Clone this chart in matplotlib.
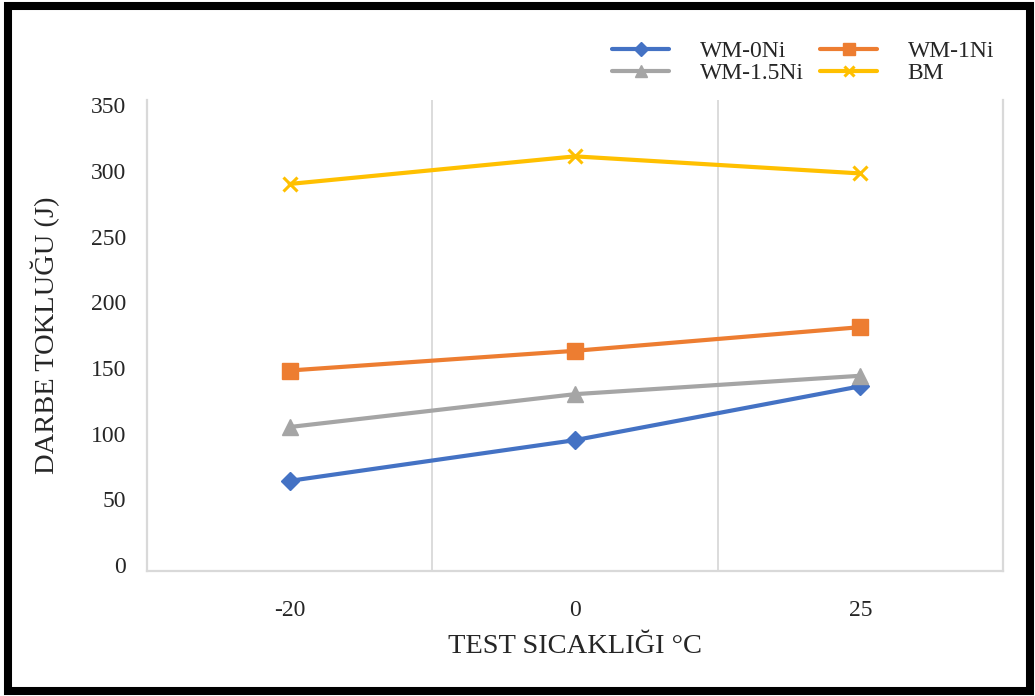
import matplotlib
matplotlib.use("Agg")
import matplotlib.pyplot as plt
from matplotlib.patches import Rectangle

plt.rcParams["font.family"] = ["Liberation Serif", "DejaVu Serif"]

# Data
temperatures = ["-20", "0", "25"]
wm_0ni = [64, 95, 136]
wm_1ni = [148, 163, 181]
wm_15ni = [105, 130, 144]
bm = [290, 311, 298]

series = [
    ("WM-0Ni", wm_0ni, "#4472C4", "D", 9),
    ("WM-1.5Ni", wm_15ni, "#A5A5A5", "^", 11),
    ("WM-1Ni", wm_1ni, "#ED7D31", "s", 11),
    ("BM", bm, "#FFC000", "x", 10),
]

W, H = 1035, 696
fig = plt.figure(figsize=(W / 100, H / 100), dpi=100)
fig.patch.set_facecolor("white")

ax = fig.add_axes([147 / W, 1 - 571 / H, (1003 - 147) / W, (571 - 100) / H])
x = list(range(len(temperatures)))

handles = {}
for name, vals, color, marker, ms in series:
    kw = dict(color=color, lw=3.0, marker=marker, markersize=ms,
              solid_capstyle="round", zorder=3)
    if marker == "x":
        kw.update(markeredgewidth=2.2)
    else:
        kw.update(markeredgecolor=color)
    (ln,) = ax.plot(x, vals, label=name, **kw)
    handles[name] = ln

ax.set_xlim(-0.5, len(temperatures) - 0.5)
ax.set_ylim(-4.6, 353.9)
ax.set_yticks(range(0, 351, 50))
ax.set_xticks(x)
ax.set_xticklabels(temperatures)

grid_c = "#D9D9D9"
for b in (0.5, 1.5):
    ax.axvline(b, color=grid_c, lw=1.3, zorder=1)
for s in ("left", "right", "bottom"):
    ax.spines[s].set_color(grid_c)
    ax.spines[s].set_linewidth(1.6)
ax.spines["top"].set_visible(False)

ax.tick_params(axis="both", length=0, labelsize=17, colors="#262626")
ax.tick_params(axis="y", pad=15)
ax.tick_params(axis="x", pad=21)

ax.set_ylabel("DARBE TOKLUĞU (J)", fontsize=20.5, color="#262626", labelpad=22)
ax.set_xlabel("TEST SICAKLIĞI °C", fontsize=20.5, color="#262626", labelpad=9)

order = ["WM-0Ni", "WM-1.5Ni", "WM-1Ni", "BM"]
leg = fig.legend([handles[n] for n in order], order, ncol=2,
                 loc="upper right", bbox_to_anchor=(1006 / W, 1 - 29 / H),
                 frameon=False, fontsize=17, handlelength=2.4,
                 handletextpad=1.3, columnspacing=0.7, labelspacing=0.0,
                 borderpad=0.0, markerscale=0.75)
for t in leg.get_texts():
    t.set_color("#262626")

# Black frame around the figure
fig.patches.append(Rectangle((8 / W, 5.5 / H), (1030 - 8) / W, (690.5 - 5.5) / H,
                             transform=fig.transFigure, fill=False,
                             edgecolor="black", lw=5.8, zorder=10))

fig.savefig("out.png", dpi=100, facecolor="white")
